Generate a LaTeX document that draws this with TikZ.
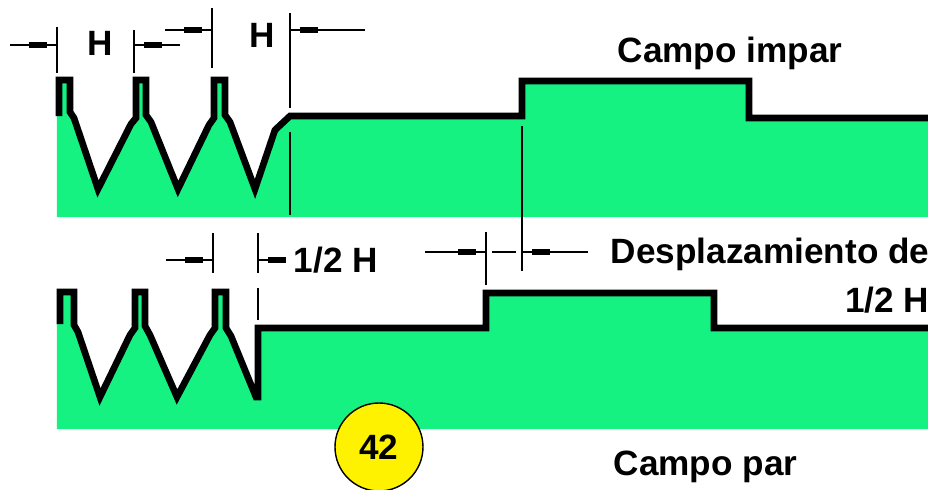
\documentclass[tikz,border=0pt]{standalone}
\usepackage{fontspec}
\setmainfont{Liberation Sans}
\usetikzlibrary{arrows.meta}
\definecolor{fieldgreen}{RGB}{22,242,130}

\begin{document}
\begin{tikzpicture}[x=0.1mm,y=-0.1mm,
  lab/.style={font=\bfseries\fontsize{10}{12}\selectfont,inner sep=0pt},
  wave/.style={line width=1.9pt},
  ext/.style={line width=0.5pt},
  dim/.style={line width=0.5pt,-{Rectangle[length=1.8mm,width=0.6mm]Rectangle[length=1mm,width=0.5pt]}}]
\useasboundingbox (0,0) rectangle (933,490);
% the two scan lines
\def\oddwave{-- (59,80) -- (70,80) -- (70,112) -- (74,118) -- (98,189) -- (131,124) -- (136,118) -- (136,80) -- (146,80) -- (146,115) -- (151,122) -- (178,189) -- (209,125) -- (214,118) -- (214,80) -- (225,80) -- (225,115) -- (230,122) -- (255,189) -- (275,130) -- (290,116) -- (522,116) -- (522,81) -- (749,81) -- (749,118) -- (928,118)}
\def\evenwave{-- (60,292) -- (74,292) -- (74,325) -- (78,332) -- (100,397) -- (130,335) -- (135,328) -- (135,292) -- (145,292) -- (145,326) -- (150,335) -- (177,397) -- (210,335) -- (215,328) -- (215,292) -- (226,292) -- (226,328) -- (231,336) -- (256,397) -- (258,397) -- (258,328) -- (486,328) -- (486,293) -- (714,293) -- (714,328) -- (928,328)}
\fill[fieldgreen] (57,217) -- (57,116) -- (59,116) \oddwave -- (928,217) -- cycle;
\fill[fieldgreen] (57,429) -- (57,324) -- (60,324) \evenwave -- (928,429) -- cycle;
\draw[wave] (59,116) \oddwave;
\draw[wave] (60,324) \evenwave;
% extension lines
\foreach \x/\ya/\yb in {57/27/73, 134/30/73, 212/8/68, 290/13/108, 290/132/215,
  522/126/271, 486/232/285, 213/233/273, 258/233/273, 258/288/320}{
  \draw[ext] (\x,\ya) -- (\x,\yb);
}
% dimension arrows
\foreach \xa/\xb/\y in {10/57/45, 180/134/45, 165/212/30, 365/290/30,
  425/486/252, 588/522/252, 166/213/260, 285/258/260}{
  \coordinate (tail) at (\xa,\y);
  \coordinate (tip) at (\xb,\y);
  \draw[dim] (tail) -- (tip);
}
\coordinate (gapl) at (486,252);
\coordinate (gapr) at (522,252);
\draw[ext,shorten <=0.6mm,shorten >=0.6mm] (gapl) -- (gapr);
% labels
\node[lab,anchor=base] (hfirst) at (100,55) {H};
\node[lab,anchor=base] (hsecond) at (262,47) {H};
\node[lab,anchor=base west] (oddname) at (617,62) {Campo impar};
\node[lab,anchor=base west] (halfh) at (293,272) {1/2 H};
\node[lab,anchor=base east] (shift) at (930,263) {Desplazamiento de};
\node[lab,anchor=base east] (shifth) at (930,312) {1/2 H};
\node[lab,anchor=base west] (evenname) at (613,475) {Campo par};
\node[lab,circle,draw,fill=yellow,minimum size=8.8mm] (tag) at (379,447) {42};
\end{tikzpicture}
\end{document}
